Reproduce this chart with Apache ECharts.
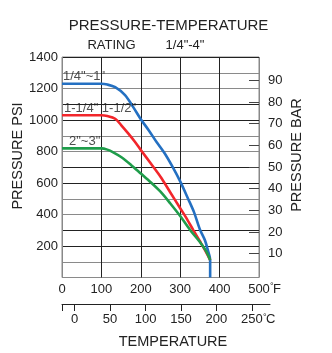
<!DOCTYPE html>
<html>
<head>
<meta charset="utf-8">
<script src="https://cdn.jsdelivr.net/npm/echarts@6/dist/echarts.min.js"></script>
<style>
  html, body { margin: 0; padding: 0; background: #fff; }
  #chart { width: 332px; height: 353px; }
</style>
</head>
<body>
<div id="chart"></div>
<script>
// Rating curves: temperature (°F) and allowed pressure (psi)
const blueTempF = [0, 100, 115, 135, 160, 180, 200, 220, 240, 260, 280, 300, 320, 335, 350, 363, 370, 376, 376];
const bluePsi   = [1230, 1230, 1225, 1208, 1158, 1085, 1005, 935, 860, 790, 705, 610, 500, 415, 305, 235, 175, 111, 0];

const redTempF = [0, 100, 115, 135, 150, 168, 185, 200, 225, 250, 275, 300, 315, 333, 350, 365, 376];
const redPsi   = [1030, 1030, 1025, 1008, 968, 915, 862, 810, 725, 640, 540, 440, 380, 302, 230, 165, 111];

const greenTempF = [0, 100, 115, 130, 150, 175, 200, 225, 250, 275, 300, 325, 350, 365, 376];
const greenPsi   = [820, 820, 812, 795, 765, 715, 660, 605, 545, 470, 390, 302, 225, 170, 111];

// Size labels drawn at the start of each curve
const sizeLabels = ['1/4"~1"', '1-1/4" 1-1/2"', '2"~3"'];

// Axis tick values
const psiLabelTicks = [200, 400, 600, 800, 1000, 1200, 1400];
const barTicks = [10, 20, 30, 40, 50, 60, 70, 80, 90];
const celsiusTicks = [0, 50, 100, 150, 200, 250];

const FONT = '"Liberation Sans", Arial, sans-serif';
const TXT = '#222';
const plain = v => String(Math.round(v));

const zip = (xs, ys) => xs.map((x, i) => [x, ys[i]]);

const chart = echarts.init(document.getElementById('chart'), null, { renderer: 'canvas' });

const cMin = (0 - 32) * 5 / 9;

function curve(name, data, color) {
  return {
    name, type: 'line', xAxisIndex: 0, yAxisIndex: 0,
    data, smooth: 0.3, symbol: 'none',
    lineStyle: { color, width: 2.6 }, z: 5
  };
}

function tag(text, point, pos) {
  return {
    type: 'scatter', xAxisIndex: 0, yAxisIndex: 0,
    symbolSize: 0, data: [point], z: 6,
    label: {
      show: true, position: pos, formatter: text,
      fontFamily: FONT, fontSize: 13, color: TXT
    }
  };
}

chart.setOption({
  animation: false,
  backgroundColor: '#fff',
  grid: [
    { left: 62, top: 57, width: 197, height: 220.5, show: true, borderColor: '#888', borderWidth: 1 },
    { left: 62, top: 300, width: 208, height: 4, show: false }
  ],
  xAxis: [
    {
      type: 'value', gridIndex: 0, min: 0, max: 500, interval: 100,
      axisLine: { show: false }, axisTick: { show: false },
      axisLabel: {
        fontFamily: FONT, fontSize: 13, color: TXT, margin: 5,
        showMinLabel: true, showMaxLabel: true, formatter: plain
      },
      splitLine: { show: true, lineStyle: { color: ['#888', '#222', '#222', '#222', '#222', '#888'], width: 1 } }
    },
    {
      type: 'value', gridIndex: 1, min: cMin, max: 275.5, position: 'bottom',
      axisLine: { show: true, lineStyle: { color: '#222', width: 1 } },
      axisTick: { show: true, length: 7, lineStyle: { color: '#222' }, customValues: [cMin].concat(celsiusTicks) },
      axisLabel: { fontFamily: FONT, fontSize: 13, color: TXT, margin: 9, customValues: celsiusTicks, formatter: plain },
      splitLine: { show: false }
    }
  ],
  yAxis: [
    {
      type: 'value', gridIndex: 0, min: 0, max: 1400, interval: 100,
      axisLine: { show: false }, axisTick: { show: false },
      axisLabel: {
        fontFamily: FONT, fontSize: 13, color: TXT, margin: 4,
        customValues: psiLabelTicks, formatter: plain
      },
      splitLine: { show: true, lineStyle: { color: ['#8a8a8a', '#8a8a8a', '#222', '#222'], width: 1 } }
    },
    {
      type: 'value', gridIndex: 0, position: 'right', min: -1, max: 100.8,
      axisLine: { show: false },
      axisTick: { show: true, inside: true, length: 10, lineStyle: { color: '#444' }, customValues: barTicks },
      axisLabel: { fontFamily: FONT, fontSize: 13, color: TXT, margin: 9, customValues: barTicks, formatter: plain },
      splitLine: { show: false }
    },
    { type: 'value', gridIndex: 1, show: false, min: 0, max: 1 }
  ],
  series: [
    curve('1/4"~1"', zip(blueTempF, bluePsi), '#2470c2'),
    curve('1-1/4" 1-1/2"', zip(redTempF, redPsi), '#f2262b'),
    curve('2"~3"', zip(greenTempF, greenPsi), '#1f9d4b'),
    tag(sizeLabels[0], [0, bluePsi[0]], [1, -14]),
    tag(sizeLabels[1], [0, redPsi[0]], [2, -13]),
    tag(sizeLabels[2], [0, greenPsi[0]], [7, -13])
  ]
});

// Unit marks next to the last tick labels, and titles
const fX = chart.convertToPixel({ xAxisIndex: 0 }, 500);
const fY = chart.convertToPixel({ yAxisIndex: 0 }, 0);
const cX = chart.convertToPixel({ xAxisIndex: 1 }, 250);

const txt = (x, y, text, size, extra) => Object.assign({
  type: 'text', x, y,
  style: { text, fontFamily: FONT, fontSize: size, fill: TXT, align: 'center', verticalAlign: 'middle' }
}, extra || {});

chart.setOption({
  graphic: [
    txt(168.5, 25.5, 'PRESSURE-TEMPERATURE', 15),
    txt(111.5, 45.5, 'RATING', 13),
    txt(185, 45.5, '1/4"-4"', 13),
    txt(18, 156, 'PRESSURE PSI', 14.5, { rotation: Math.PI / 2 }),
    txt(297, 155, 'PRESSURE BAR', 14.5, { rotation: Math.PI / 2 }),
    txt(173, 342, 'TEMPERATURE', 14.5),
    { type: 'text', x: fX + 11, y: fY + 5, style: { text: '°', fontFamily: FONT, fontSize: 9, fill: TXT, align: 'left', verticalAlign: 'top' } },
    { type: 'text', x: fX + 14, y: fY + 11.5, style: { text: 'F', fontFamily: FONT, fontSize: 13, fill: TXT, align: 'left', verticalAlign: 'middle' } },
    { type: 'text', x: cX + 11, y: 313, style: { text: '°', fontFamily: FONT, fontSize: 9, fill: TXT, align: 'left', verticalAlign: 'top' } },
    { type: 'text', x: cX + 14, y: 319.5, style: { text: 'C', fontFamily: FONT, fontSize: 13, fill: TXT, align: 'left', verticalAlign: 'middle' } }
  ]
});
</script>
</body>
</html>
